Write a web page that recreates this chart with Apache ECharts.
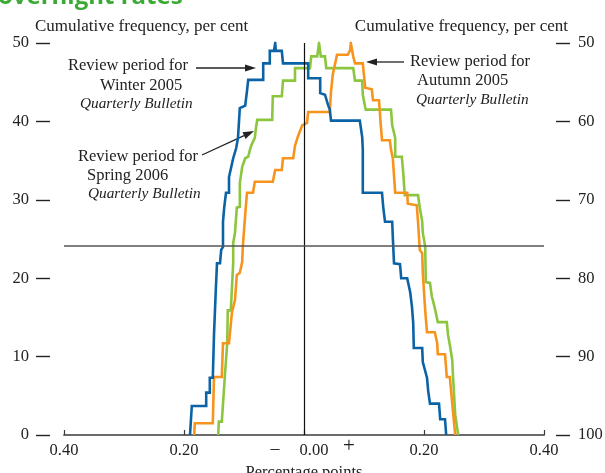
<!DOCTYPE html>
<html><head><meta charset="utf-8">
<script src="https://cdn.jsdelivr.net/npm/echarts@6/dist/echarts.min.js"></script>
<style>html,body{margin:0;padding:0;background:#fff}#c{width:605px;height:473px}</style>
</head><body><div id="c"></div>
<script>
// Axis settings
const xMin = -0.4, xMax = 0.4, xStep = 0.2;
const leftMin = 0, leftMax = 50, rightMin = 50, rightMax = 100, yStep = 10;
const refLevel = 24.2;           // horizontal reference line (left-axis units)
const axisTitle = 'Cumulative frequency, per cent';
const xTitle = 'Percentage points';

// Folded cumulative frequency (left-axis units; right side = 100 - value on right axis)
const winter2005 = [
  [-0.190,0],[-0.187,3.7],[-0.163,3.7],[-0.163,5.4],[-0.157,5.4],[-0.157,7.3],[-0.152,7.3],
  [-0.150,12.8],[-0.147,18.5],[-0.145,21.9],[-0.140,21.9],[-0.138,23.6],[-0.135,24.0],
  [-0.135,27.2],[-0.133,29.0],[-0.130,29.0],[-0.130,30.9],[-0.125,30.9],[-0.125,32.9],
  [-0.122,32.9],[-0.118,35.3],[-0.113,36.6],[-0.110,37.9],[-0.107,41.7],[-0.098,42.0],
  [-0.095,43.9],[-0.093,45.3],[-0.068,45.3],[-0.068,47.4],[-0.057,47.4],[-0.057,49.0],
  [-0.050,49.0],[-0.048,50.0],[-0.047,49.0],[-0.037,49.0],[-0.035,47.4],[0.007,47.4],
  [0.007,45.5],[0.027,45.5],[0.027,43.6],[0.035,43.4],[0.040,42.1],[0.043,41.5],[0.045,40.1],
  [0.093,40.1],[0.097,38.0],[0.098,36.4],[0.098,30.9],[0.130,30.9],[0.132,29.1],[0.135,27.2],
  [0.147,27.2],[0.148,25.3],[0.150,21.9],[0.160,21.8],[0.162,20.0],[0.172,20.0],[0.177,18.2],
  [0.180,16.3],[0.182,14.3],[0.183,11.1],[0.197,11.1],[0.198,9.3],[0.205,7.3],[0.207,5.6],
  [0.210,4.0],[0.225,4.0],[0.227,2.0],[0.235,2.0],[0.237,0]
];
const spring2006 = [
  [-0.143,0],[-0.142,1.7],[-0.137,1.7],[-0.132,7.4],[-0.128,11.7],[-0.127,15.9],[-0.122,15.9],
  [-0.118,21.9],[-0.118,24.5],[-0.115,25.8],[-0.113,25.8],[-0.112,29.0],[-0.107,29.1],
  [-0.107,32.1],[-0.103,34.2],[-0.100,34.4],[-0.098,35.3],[-0.093,35.5],[-0.090,36.4],
  [-0.087,37.1],[-0.082,37.9],[-0.080,39.2],[-0.078,40.2],[-0.053,40.2],[-0.052,43.2],
  [-0.037,43.2],[-0.035,45.2],[-0.015,45.2],[-0.015,46.8],[0.010,46.8],[0.012,48.3],
  [0.022,48.3],[0.025,50.0],[0.028,48.3],[0.035,48.3],[0.037,46.8],[0.082,46.8],[0.085,45.2],
  [0.097,45.2],[0.098,43.4],[0.102,41.8],[0.103,41.5],[0.145,41.5],[0.147,39.5],[0.152,37.9],
  [0.152,35.5],[0.163,35.5],[0.165,33.8],[0.168,30.6],[0.190,30.6],[0.193,29.0],[0.197,27.2],
  [0.198,25.8],[0.202,24.0],[0.203,19.5],[0.210,19.4],[0.213,17.7],[0.218,16.2],[0.223,14.4],
  [0.238,14.4],[0.240,12.8],[0.243,11.5],[0.247,9.6],[0.248,8.0],[0.252,2.6],[0.257,0]
];
const autumn2005 = [
  [-0.183,0],[-0.182,1.5],[-0.152,1.5],[-0.150,7.4],[-0.137,7.4],[-0.135,11.7],[-0.125,11.7],
  [-0.120,15.7],[-0.115,17.2],[-0.112,20.4],[-0.107,20.7],[-0.103,22.1],[-0.102,24.0],
  [-0.098,28.1],[-0.095,30.9],[-0.085,30.9],[-0.082,32.3],[-0.052,32.3],[-0.048,33.8],
  [-0.037,33.8],[-0.035,35.3],[-0.018,35.3],[-0.015,36.9],[-0.010,38.1],[-0.007,38.3],
  [-0.003,39.5],[0.005,39.8],[0.007,41.2],[0.043,41.2],[0.045,43.8],[0.048,46.0],[0.055,48.5],
  [0.073,48.5],[0.077,49.1],[0.078,50.0],[0.082,48.3],[0.085,47.4],[0.098,47.4],[0.102,44.3],
  [0.113,44.1],[0.115,42.7],[0.125,42.7],[0.128,39.5],[0.130,37.6],[0.143,37.6],[0.145,36.4],
  [0.148,35.3],[0.152,30.9],[0.172,30.9],[0.173,29.5],[0.188,29.3],[0.190,27.2],[0.193,23.6],
  [0.197,23.2],[0.198,20.7],[0.202,15.9],[0.205,13.1],[0.218,13.1],[0.222,11.7],[0.223,10.3],
  [0.235,10.3],[0.238,7.4],[0.243,7.4],[0.247,4.1],[0.252,0]
];

const SERIF = '"Liberation Serif", "DejaVu Serif", serif';
const chart = echarts.init(document.getElementById('c'), null, {renderer: 'canvas'});

function lineSeries(name, data, color, extra) {
  return Object.assign({
    name, type: 'line', data, showSymbol: false, symbol: 'none',
    lineStyle: {color, width: 2.6, join: 'miter'}, itemStyle: {color},
    animation: false, silent: true, z: 3
  }, extra || {});
}

function arrow(x1, y1, x2, y2) {
  const dx = x2 - x1, dy = y2 - y1, L = Math.hypot(dx, dy);
  const ux = dx / L, uy = dy / L, h = 11, w = 3.6;
  const bx = x2 - ux * h, by = y2 - uy * h;
  return [
    {type: 'line', shape: {x1, y1, x2: bx, y2: by}, style: {stroke: '#222', lineWidth: 1.3}},
    {type: 'polygon', shape: {points: [[x2, y2], [bx - uy * w, by + ux * w], [bx + uy * w, by - ux * w]]},
     style: {fill: '#222'}}
  ];
}

function txt(x, y, text, opts) {
  return {type: 'text', x, y, style: Object.assign({text, font: '16.5px ' + SERIF, fill: '#222',
    align: 'left', verticalAlign: 'middle'}, opts || {})};
}
const ITAL = 'italic 15.3px ' + SERIF;

const option = {
  animation: false,
  backgroundColor: '#fff',
  grid: {left: 64, right: 61, top: 43, bottom: 38, containLabel: false, outerBoundsMode: 'none'},
  xAxis: {
    type: 'value', min: xMin, max: xMax, interval: xStep,
    axisLine: {show: true, onZero: false, lineStyle: {color: '#3a3a3a', width: 1.7}},
    axisTick: {show: true, inside: true, length: 5, lineStyle: {color: '#3a3a3a', width: 1.2}},
    splitLine: {show: false},
    axisLabel: {
      margin: 7, fontFamily: SERIF, fontSize: 16.5, color: '#222',
      formatter: v => Math.abs(v) < 1e-9 ? '{z|0.00}' : Math.abs(v).toFixed(2),
      rich: {z: {fontFamily: SERIF, fontSize: 16.5, color: '#222', padding: [0, 0, 0, 20]}}
    },
    name: xTitle, nameLocation: 'middle', nameGap: 29,
    nameTextStyle: {fontFamily: SERIF, fontSize: 16.5, color: '#222'}
  },
  yAxis: [
    {
      type: 'value', min: leftMin, max: leftMax, interval: yStep, position: 'left', offset: 14,
      axisLine: {show: false, onZero: false},
      axisTick: {show: true, length: 14, lineStyle: {color: '#222', width: 1.4}},
      splitLine: {show: false},
      axisLabel: {margin: 21, fontFamily: SERIF, fontSize: 16.5, color: '#222'}
    },
    {
      type: 'value', min: rightMin, max: rightMax, interval: yStep, position: 'right', offset: 12,
      inverse: true,
      axisLine: {show: false, onZero: false},
      axisTick: {show: true, length: 14, lineStyle: {color: '#222', width: 1.4}},
      splitLine: {show: false},
      axisLabel: {margin: 22, fontFamily: SERIF, fontSize: 16.5, color: '#222'}
    }
  ],
  series: [
    lineSeries('Spring 2006', spring2006, '#8cc63f', {
      markLine: {
        silent: true, symbol: 'none', label: {show: false}, animation: false,
        data: [
          {xAxis: 0, lineStyle: {color: '#111', width: 1.2, type: 'solid'}},
          {yAxis: refLevel, lineStyle: {color: '#555', width: 1.6, type: 'solid'}}
        ]
      }
    }),
    lineSeries('Autumn 2005', autumn2005, '#f7941d'),
    lineSeries('Winter 2005', winter2005, '#0b63a6')
  ],
  graphic: [
    {type: 'text', x: -2, y: 9, style: {text: 'overnight rates', font: 'bold 24px "Open Sans", sans-serif',
      fill: '#3aaa35', align: 'left', verticalAlign: 'bottom'}},
    txt(35, 27, axisTitle, {font: '17px ' + SERIF}),
    txt(568, 27, axisTitle, {font: '17px ' + SERIF, align: 'right'}),
    txt(68, 66, 'Review period for'),
    txt(100, 86, 'Winter 2005'),
    txt(80, 104, 'Quarterly Bulletin', {font: ITAL}),
    txt(78, 157, 'Review period for'),
    txt(87, 176, 'Spring 2006'),
    txt(88, 194, 'Quarterly Bulletin', {font: ITAL}),
    txt(410, 62, 'Review period for'),
    txt(417, 81, 'Autumn 2005'),
    txt(416, 100, 'Quarterly Bulletin', {font: ITAL}),
    txt(275, 449, '\u2013', {font: '18px ' + SERIF, align: 'center'}),
    txt(349, 446, '+', {font: '21px ' + SERIF, align: 'center'}),
    ...arrow(196, 68, 256, 68),
    ...arrow(202, 155, 254, 131),
    ...arrow(404, 62, 366, 62)
  ]
};
chart.setOption(option);
</script>
</body></html>
